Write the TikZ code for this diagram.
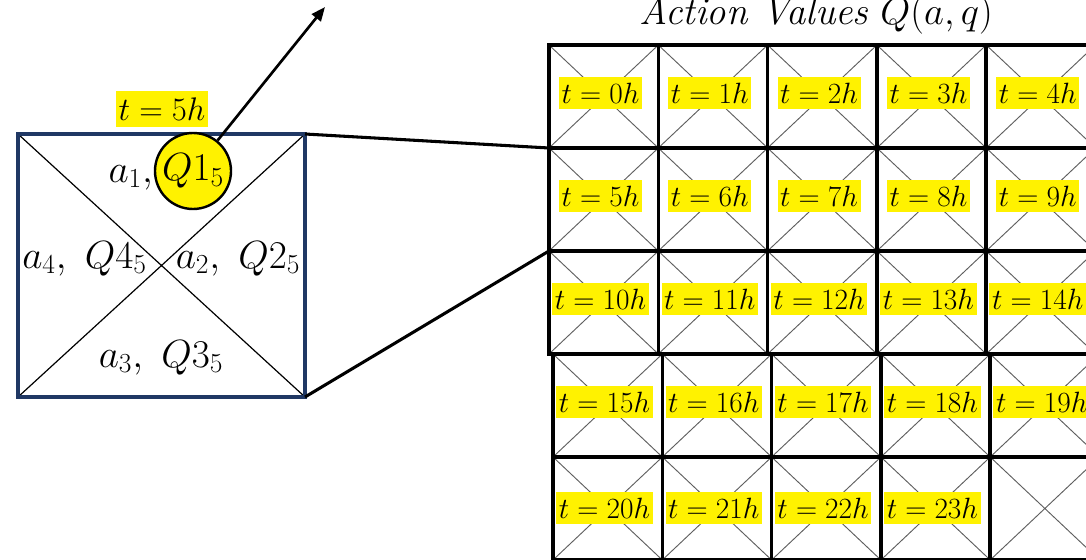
\RequirePackage{fix-cm}
\documentclass[tikz,border=0pt]{standalone}
\usetikzlibrary{arrows.meta}
\definecolor{navy}{RGB}{32,56,100}
\definecolor{diaggray}{RGB}{95,95,95}
\begin{document}
\begin{tikzpicture}[x=0.75pt,y=-0.75pt,
  cell/.style={minimum width=82pt, minimum height=77.25pt, inner sep=0pt, outer sep=0pt},
  cellborder/.style={draw=black, line width=2.6pt},
  diag/.style={draw=diaggray, line width=0.7pt},
  tlabel/.style={fill=yellow, inner xsep=2pt, inner ysep=0pt, minimum height=23.5pt, font=\fontsize{22}{26}\selectfont},
  bigmath/.style={inner sep=0pt, font=\fontsize{29.5}{34}\selectfont},
  conn/.style={draw=black, line width=2.3pt}
]
\useasboundingbox (0,0) rectangle (1086,560);
\clip (0,0) rectangle (1086,560);

% title
\node[font=\fontsize{29}{34}\selectfont, anchor=base, inner sep=0pt] (title) at (816,25) {\textit{Action Values} $Q(a,q)$};

% grid of cells
\foreach \r in {1,...,5}{
  \foreach \c in {1,...,5}{
    \pgfmathsetmacro{\xl}{549+(\r>3)*4+(\c-1)*109.3}
    \pgfmathsetmacro{\yt}{45+(\r-1)*103}
    \node[cell] (c\r\c) at (\xl+54.65,\yt+51.5) {};
    \draw[diag] (c\r\c.north west) -- (c\r\c.south east)
                (c\r\c.north east) -- (c\r\c.south west);
  }
}
\foreach \r in {1,...,5}{
  \foreach \c in {1,...,5}{
    \pgfmathsetmacro{\xl}{549+(\r>3)*4+(\c-1)*109.3}
    \pgfmathsetmacro{\yt}{45+(\r-1)*103}
    \pgfmathsetmacro{\ly}{\yt+48+3*(\r==5)}
    \pgfmathtruncatemacro{\n}{(\r-1)*5+\c-1}
    \ifnum\n<24
      \node[tlabel] (l\r\c) at (\xl+51.5,\ly) {$t = \n h$};
    \fi
    \draw[cellborder] (c\r\c.north west) rectangle (c\r\c.south east);
  }
}

% left zoomed cell
\node[cell, minimum width=215.25pt, minimum height=197.25pt] (lb) at (161.5,265.5) {};
\draw[line width=0.9pt] (lb.north west) -- (lb.south east)
                        (lb.north east) -- (lb.south west);
\draw[draw=navy, line width=2.5pt] (lb.north west) rectangle (lb.south east);

% connectors to grid
\draw[conn] (lb.north east) -- (c21.north west);
\draw[conn] (lb.south east) -- (c21.south west);

% labels in the left cell
\node[bigmath, anchor=base] (a4) at (84.5,268) {$a_4,\ Q4_5$};
\node[bigmath, anchor=base] (a2) at (238,268) {$a_2,\ Q2_5$};
\node[bigmath, anchor=base] (a3) at (161,367) {$a_3,\ Q3_5$};

% highlighted action
\node[circle, draw=black, line width=1.8pt, fill=yellow, minimum size=57pt, inner sep=0pt,
      font=\fontsize{29.5}{34}\selectfont] (q1) at (193,171) {$Q1_5$};
\node[bigmath, anchor=base east] (a1) at (153,182) {$a_1,$};

% time label
\node[fill=yellow, inner xsep=2pt, inner ysep=0pt, minimum height=27pt,
      font=\fontsize{24.5}{29}\selectfont] (t5) at (162,109) {$t = 5h$};

% arrow
\coordinate (tip) at (325,7);
\draw[line width=2pt, -{Triangle[length=10.5pt,width=8.5pt]}] (q1) -- (tip);
\end{tikzpicture}
\end{document}
